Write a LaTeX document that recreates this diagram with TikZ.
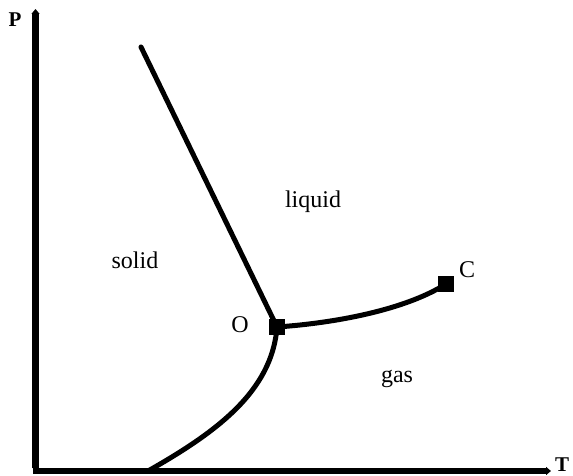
\documentclass[tikz,border=0pt]{standalone}
\usepackage{fontspec}
\setmainfont{Liberation Serif}
\usetikzlibrary{arrows.meta}
\begin{document}
\begin{tikzpicture}[x=1pt,y=-1pt,
  axis/.style={line width=6.5pt,-{Triangle[length=5pt,width=8pt]}},
  curve/.style={line width=5pt,line cap=round},
  pt/.style={fill=black,draw=none,minimum size=16pt,inner sep=0pt,rectangle},
  lab/.style={font=\fontsize{24}{28}\selectfont,anchor=base,inner sep=0pt},
  axlab/.style={font=\fontsize{21}{25}\selectfont\bfseries,anchor=base,inner sep=0pt}]
\useasboundingbox (0,0) rectangle (573,476);
\coordinate (origin) at (35.5,471);
\coordinate (ptop) at (35.5,9);
\coordinate (tend) at (551,471);
\coordinate (mtop) at (141,47);
\coordinate (sbot) at (148,471);
\draw[axis] ([yshift=3pt]origin) -- (ptop);
\draw[axis] ([xshift=-3pt]origin) -- (tend);
\node[pt] (O) at (277,327) {};
\node[pt] (C) at (446,284) {};
\draw[curve] (mtop) -- (O.center);
\draw[curve] (O.center) .. controls (335,323) and (405,310) .. (C.center);
\draw[curve] (sbot) .. controls (215,433) and (272,392) .. (O.center);
\node[axlab] (P) at (15,27) {P};
\node[axlab] (T) at (562,471) {T};
\node[lab] (liq) at (313,207) {liquid};
\node[lab] (sol) at (135,268) {solid};
\node[lab] (gas) at (397,382) {gas};
\node[lab] (Olab) at (240,332) {O};
\node[lab] (Clab) at (467,277) {C};
\end{tikzpicture}
\end{document}
